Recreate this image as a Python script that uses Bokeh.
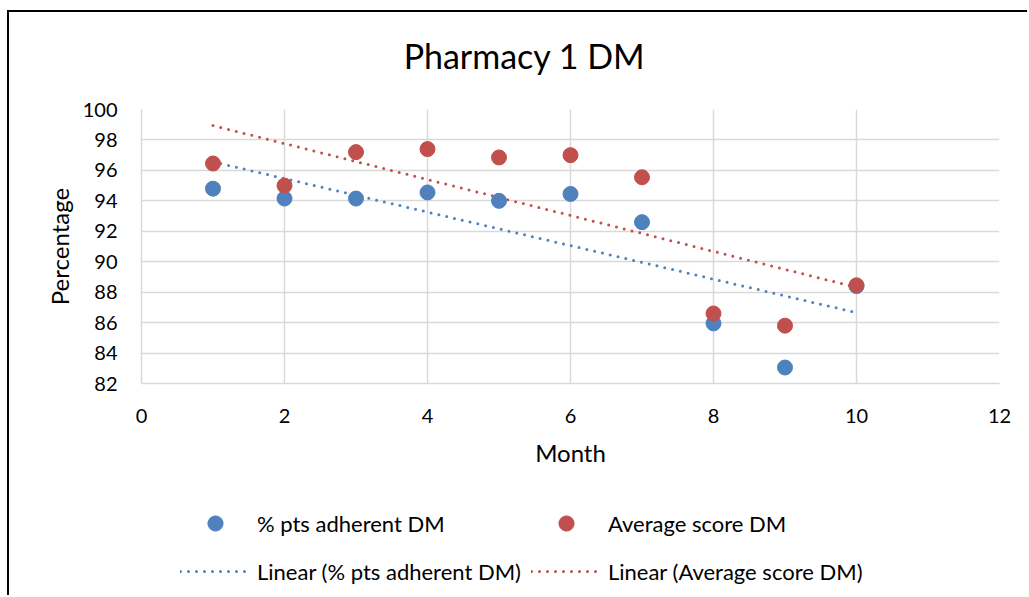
import numpy as np
from bokeh.plotting import figure
from bokeh.layouts import column
from bokeh.models import Range1d, Legend, LegendItem, FixedTicker, Label
from bokeh.embed import file_html
from bokeh.resources import INLINE

# ---- data ----
months = [1, 2, 3, 4, 5, 6, 7, 8, 9, 10]
adherent = [94.8, 94.15, 94.15, 94.55, 94.0, 94.45, 92.6, 85.95, 83.05, 88.4]
avg_score = [96.45, 95.0, 97.2, 97.4, 96.85, 97.0, 95.55, 86.6, 85.8, 88.45]

title_text = "Pharmacy 1 DM"
x_label = "Month"
y_label = "Percentage"
x_ticks = [0, 2, 4, 6, 8, 10, 12]
y_ticks = [82, 84, 86, 88, 90, 92, 94, 96, 98, 100]
series_names = ["% pts adherent DM", "Average score DM"]

FONT = "Lato"
BLUE = "#4f81bd"
RED = "#c0504d"
GRID = "#d9d9d9"
W = 1018

# ---- title strip ----
t = figure(width=W, height=85, output_backend="svg", toolbar_location=None,
           x_range=Range1d(0, 12), y_range=Range1d(0, 1),
           min_border=0, x_axis_location=None, y_axis_location=None)
t.outline_line_color = None
t.grid.visible = False
t.add_layout(Label(x=5.357, y=0.494, text=title_text, text_align="center",
                   text_baseline="middle", text_font=FONT, text_font_size="34px",
                   text_color="#000000"))

# ---- main chart ----
p = figure(width=W, height=381, output_backend="svg", toolbar_location=None,
           x_range=Range1d(0, 12), y_range=Range1d(82, 100),
           min_border_left=132, min_border_right=28, min_border_top=12,
           min_border_bottom=95)
p.outline_line_color = None

for ax in (p.xaxis[0], p.yaxis[0]):
    ax.major_tick_line_color = None
    ax.minor_tick_line_color = None
    ax.axis_line_color = GRID
    ax.axis_line_width = 1.5
    ax.major_label_text_font = FONT
    ax.major_label_text_font_size = "20px"
    ax.major_label_text_color = "#000000"
    ax.axis_label_text_font = FONT
    ax.axis_label_text_font_size = "24px"
    ax.axis_label_text_font_style = "normal"
    ax.axis_label_text_color = "#000000"

p.xaxis.ticker = FixedTicker(ticks=x_ticks)
p.yaxis.ticker = FixedTicker(ticks=y_ticks)
p.xaxis.axis_label = x_label
p.yaxis.axis_label = y_label
p.xaxis.major_label_standoff = 19
p.yaxis.major_label_standoff = 18
p.xaxis.axis_label_standoff = 12
p.yaxis.axis_label_standoff = 6

p.xgrid.ticker = FixedTicker(ticks=x_ticks)
p.ygrid.ticker = FixedTicker(ticks=y_ticks)
p.grid.grid_line_color = GRID
p.grid.grid_line_width = 1.5

# trendlines (least squares fits from the data)
mx = np.array(months, dtype=float)
fit_x = [mx.min(), mx.max()]
c1 = np.polyfit(mx, np.array(adherent), 1)
c2 = np.polyfit(mx, np.array(avg_score), 1)
p.line(fit_x, list(np.polyval(c1, fit_x)), line_color=BLUE, line_width=3,
       line_dash="0 8", line_cap="round")
p.line(fit_x, list(np.polyval(c2, fit_x)), line_color=RED, line_width=3,
       line_dash="0 8", line_cap="round")

p.scatter(months, adherent, size=15, color=BLUE)
p.scatter(months, avg_score, size=15, color=RED)

# ---- legend strip (separate figure under the chart) ----
q = figure(width=W, height=117, output_backend="svg", toolbar_location=None,
           x_range=Range1d(0, 1), y_range=Range1d(0, 1),
           min_border=0, x_axis_location=None, y_axis_location=None)
q.outline_line_color = None
q.grid.visible = False
# legend-key renderers, kept outside the visible range
k1 = q.scatter([-5], [-5], size=15, color=BLUE)
k2 = q.scatter([-5], [-5], size=15, color=RED)
k3 = q.line([-6, -5], [-6, -5], line_color=BLUE, line_width=3, line_dash="0 8",
            line_cap="round")
k4 = q.line([-6, -5], [-6, -5], line_color=RED, line_width=3, line_dash="0 8",
            line_cap="round")

legend = Legend(items=[
    LegendItem(label=series_names[0], renderers=[k1]),
    LegendItem(label=series_names[1], renderers=[k2]),
    LegendItem(label="Linear (" + series_names[0] + ")", renderers=[k3]),
    LegendItem(label="Linear (" + series_names[1] + ")", renderers=[k4]),
], orientation="horizontal", ncols=2)
legend.location = (39, 5)
legend.label_text_font = FONT
legend.label_text_font_size = "22px"
legend.label_text_color = "#000000"
legend.glyph_width = 70
legend.glyph_height = 38
legend.label_height = 28
legend.label_standoff = 7
legend.spacing = 10
legend.padding = 0
legend.margin = 0
legend.border_line_color = None
legend.background_fill_alpha = 0
q.add_layout(legend, "center")

page = column(t, p, q, spacing=0,
              styles={"margin-left": "7px", "margin-top": "10px",
                      "border-left": "2px solid #000", "border-top": "2px solid #000"})

open("out.html", "w").write(file_html(page, INLINE))
